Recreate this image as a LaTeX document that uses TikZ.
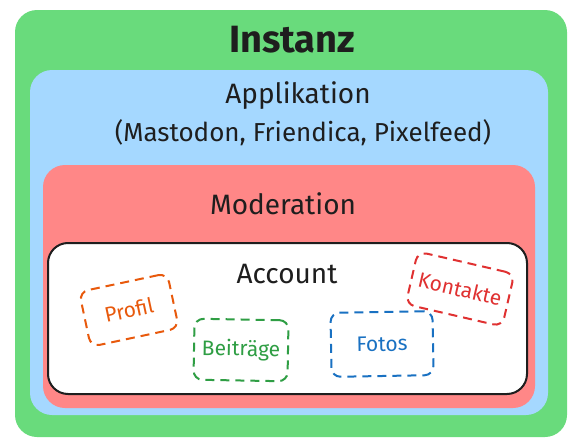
\documentclass[tikz,border=0pt]{standalone}
\usepackage{fontspec}
\setmainfont{Fira Sans}
\definecolor{gfill}{HTML}{69DB7C}
\definecolor{bfill}{HTML}{A5D8FF}
\definecolor{rfill}{HTML}{FF8787}
\definecolor{ink}{HTML}{1E1E1E}
\definecolor{orng}{HTML}{E8590C}
\definecolor{grn}{HTML}{2F9E44}
\definecolor{blu}{HTML}{1971C2}
\definecolor{rd}{HTML}{E03131}
\tikzset{
  layer/.style={rectangle, rounded corners=22pt, inner sep=0pt},
  tag/.style={rectangle, rounded corners=9pt, dash pattern=on 9pt off 6pt, line width=2pt, inner sep=0pt, font=\fontsize{21}{24}\selectfont},
  ttl/.style={text=ink, inner sep=0pt}
}
\begin{document}
\begin{tikzpicture}[x=1pt,y=-1pt]
\useasboundingbox (0,0) rectangle (582,447);
\node[layer, fill=gfill, minimum width=552pt, minimum height=427pt] (inst) at (291,223.5) {};
\node[layer, fill=bfill, minimum width=518pt, minimum height=345pt] (app) at (289,242.5) {};
\node[layer, fill=rfill, minimum width=492pt, minimum height=243pt] (mod) at (289,286.5) {};
\node[layer, fill=white, draw=ink, line width=2pt, rounded corners=20pt, minimum width=479pt, minimum height=151pt] (acc) at (287.5,318.5) {};
\node[ttl, font=\fontsize{38}{42}\selectfont\bfseries] (tinst) at (292,40) {Instanz};
\node[ttl, font=\fontsize{28}{32}\selectfont] (tapp) at (298,96) {Applikation};
\node[ttl, font=\fontsize{26}{30}\selectfont] (tsub) at (303,133) {(Mastodon, Friendica, Pixelfeed)};
\node[ttl, font=\fontsize{28}{32}\selectfont] (tmod) at (283,204) {Moderation};
\node[ttl, font=\fontsize{28}{32}\selectfont] (tacc) at (287,274) {Account};
\node[tag, draw=orng, text=orng, minimum width=90pt, minimum height=56pt, rotate=12] (profil) at (129,310) {Profil};
\node[tag, draw=grn, text=grn, minimum width=94pt, minimum height=61pt, rotate=-1] (beitr) at (241,350) {Beiträge};
\node[tag, draw=blu, text=blu, minimum width=102pt, minimum height=64pt, rotate=1] (fotos) at (382,344) {Fotos};
\node[tag, draw=rd, text=rd, minimum width=99pt, minimum height=54pt, rotate=-13] (kont) at (460,289) {Kontakte};
\end{tikzpicture}
\end{document}
